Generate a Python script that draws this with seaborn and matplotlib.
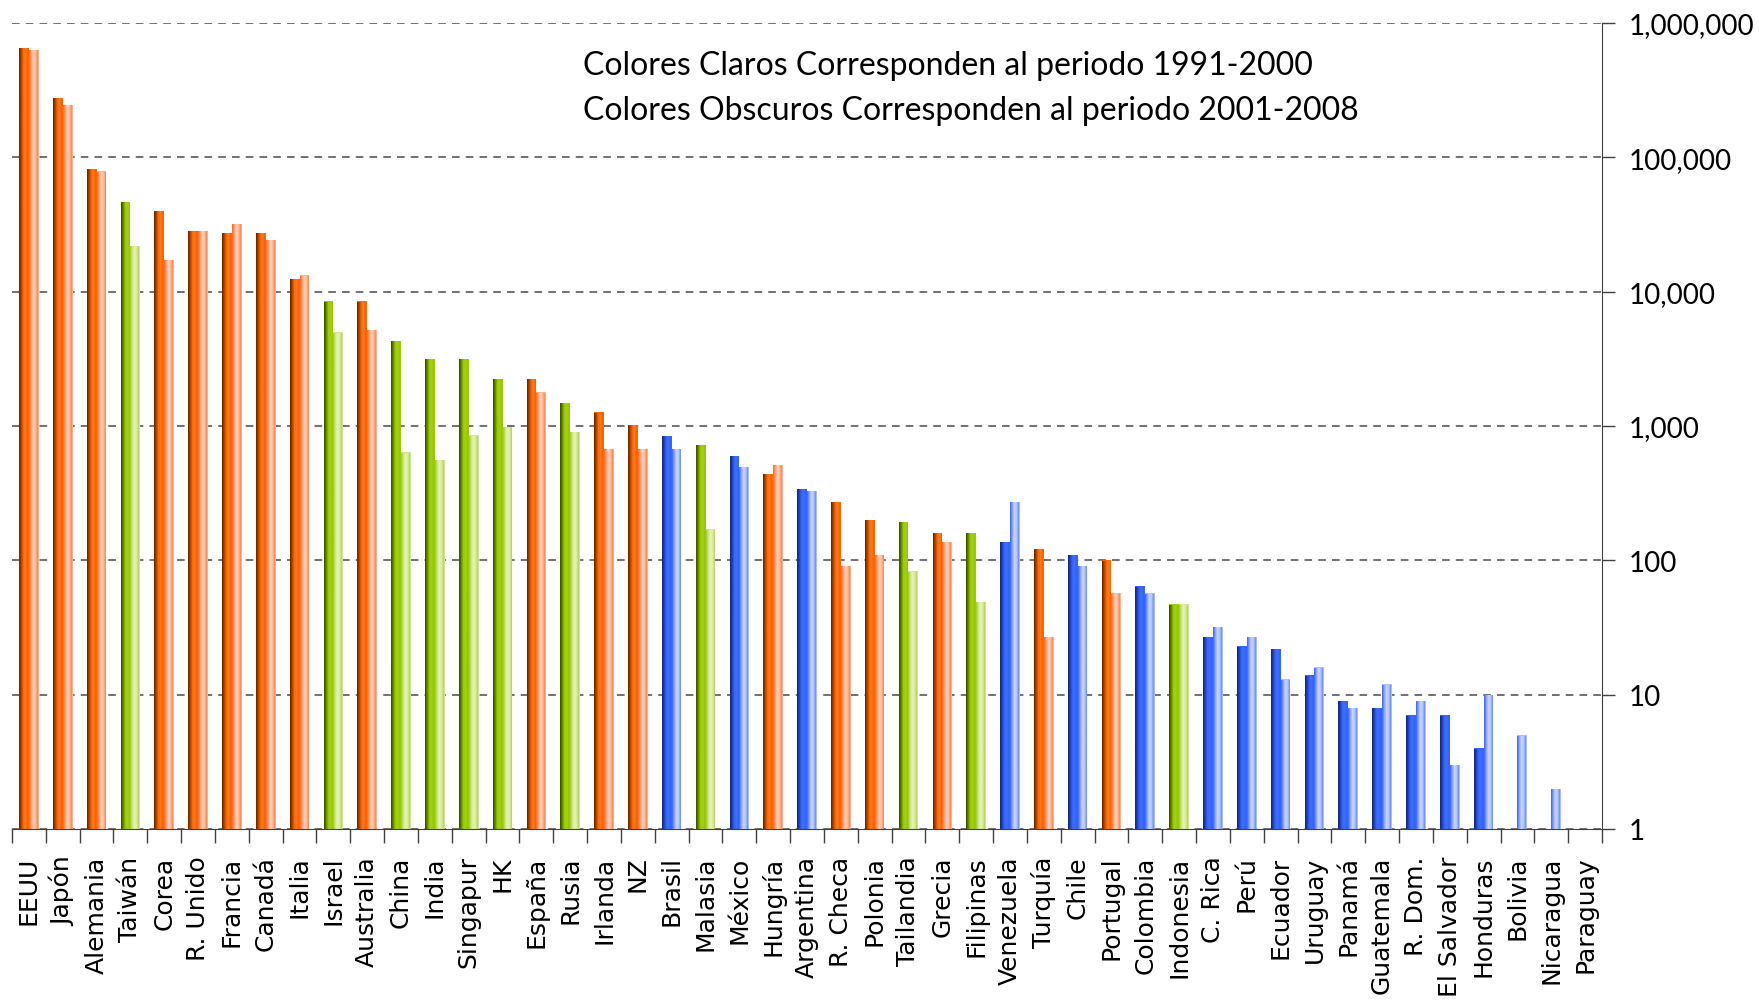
import numpy as np
import pandas as pd
import matplotlib
matplotlib.use("Agg")
import matplotlib.pyplot as plt
import seaborn as sns
from matplotlib.colors import LinearSegmentedColormap
from matplotlib.ticker import FixedLocator, FuncFormatter, NullLocator

# datos (escala logaritmica)
paises = ["EEUU", "Japón", "Alemania", "Taiwán", "Corea", "R. Unido", "Francia", "Canadá",
          "Italia", "Israel", "Australia", "China", "India", "Singapur", "HK", "España",
          "Rusia", "Irlanda", "NZ", "Brasil", "Malasia", "México", "Hungría", "Argentina",
          "R. Checa", "Polonia", "Tailandia", "Grecia", "Filipinas", "Venezuela", "Turquía",
          "Chile", "Portugal", "Colombia", "Indonesia", "C. Rica", "Perú", "Ecuador",
          "Uruguay", "Panamá", "Guatemala", "R. Dom.", "El Salvador", "Honduras", "Bolivia",
          "Nicaragua", "Paraguay"]
grupo = ["o", "o", "o", "g", "o", "o", "o", "o",
         "o", "g", "o", "g", "g", "g", "g", "o",
         "g", "o", "o", "b", "g", "b", "o", "b",
         "o", "o", "g", "o", "g", "b", "o",
         "b", "o", "b", "g", "b", "b", "b",
         "b", "b", "b", "b", "b", "b", "b",
         "b", "b"]
periodo_2001_2008 = [654000, 277000, 82000, 46600, 40000, 28400, 27400, 27400,
                     12500, 8500, 8500, 4300, 3160, 3160, 2240, 2240,
                     1490, 1270, 1020, 844, 723, 599, 440, 340,
                     272, 200, 193, 160, 160, 137, 122,
                     110, 100, 64, 47, 27, 23, 22,
                     14, 9, 8, 7, 7, 4, np.nan,
                     np.nan, np.nan]
periodo_1991_2000 = [631000, 246000, 79000, 21900, 17300, 28400, 32000, 24300,
                     13300, 5000, 5200, 640, 560, 850, 985, 1790,
                     904, 675, 675, 675, 171, 496, 513, 329,
                     91, 110, 83, 137, 49, 272, 27,
                     91, 57, 57, 47, 32, 27, 13,
                     16, 8, 12, 9, 3, 10, 5,
                     2, np.nan]

# degradados tipo cilindro (oscuro = 2001-2008, claro = 1991-2000)
gradientes = {
    ("o", "2001-2008"): ["#6E2A00", "#B84800", "#FF6600", "#FF7A1A", "#FF6600", "#C85000"],
    ("o", "1991-2000"): ["#FF7030", "#FFA47A", "#FFD0B8", "#FFC0A0", "#FF9060", "#FF6A20"],
    ("g", "2001-2008"): ["#3F5700", "#6B8F00", "#99CC00", "#A3D10F", "#99CC00", "#7A9F00"],
    ("g", "1991-2000"): ["#A6CF3A", "#CFE68A", "#E4F2B8", "#DCEEA6", "#BEDD66", "#9CC82C"],
    ("b", "2001-2008"): ["#16297A", "#2346C8", "#3366FF", "#3D6EFF", "#3366FF", "#2A52D8"],
    ("b", "1991-2000"): ["#4570FF", "#8EA8FF", "#C6D4FF", "#B8CAFF", "#7C9AFF", "#4068FF"],
}
solidos = {"o": ("#FF6600", "#FFB08A"), "g": ("#99CC00", "#D2E890"), "b": ("#3366FF", "#A9BDFF")}

df = pd.DataFrame({
    "pais": paises * 2,
    "grupo": grupo * 2,
    "periodo": ["2001-2008"] * len(paises) + ["1991-2000"] * len(paises),
    "valor": periodo_2001_2008 + periodo_1991_2000,
}).dropna()

fig = plt.figure(figsize=(17.59, 10.03), dpi=100)
ax = fig.add_axes([12 / 1759, 173 / 1003, 1590 / 1759, 806 / 1003])
ax.set_yscale("log")

sns.barplot(data=df, x="pais", y="valor", hue="periodo", order=paises,
            hue_order=["2001-2008", "1991-2000"], width=0.58, gap=0,
            errorbar=None, legend=False, ax=ax, linewidth=0, saturation=1)

# colorear cada barra segun grupo y periodo, con sombreado
for cont, per in zip(ax.containers, ["2001-2008", "1991-2000"]):
    for p in cont.patches:
        h = p.get_height()
        if not np.isfinite(h) or h <= 0:
            continue
        i = int(round(p.get_x() + p.get_width() / 2))
        g = grupo[i]
        p.set_facecolor(solidos[g][0 if per == "2001-2008" else 1])
        cmap = LinearSegmentedColormap.from_list("c", gradientes[(g, per)])
        x0, w = p.get_x(), p.get_width()
        im = ax.imshow(np.linspace(0, 1, 64).reshape(1, -1), cmap=cmap, aspect="auto",
                       extent=(x0, x0 + w, 1, h), origin="lower",
                       interpolation="bilinear", zorder=2.1)
        im.set_clip_path(p)

ax.set_ylim(1, 1e6)
ax.set_xlim(-0.5, len(paises) - 0.5)
ax.set_aspect("auto")

# eje y a la derecha
ax.yaxis.tick_right()
ax.yaxis.set_major_locator(FixedLocator([10 ** k for k in range(7)]))
ax.yaxis.set_minor_locator(NullLocator())
ax.yaxis.set_major_formatter(FuncFormatter(lambda v, pos: f"{v:,.0f}"))
ax.tick_params(axis="y", which="major", length=9, width=1, color="#404040", pad=10,
               labelsize=20, labelcolor="black")
for lab in ax.get_yticklabels():
    lab.set_family("Lato")
ax.grid(axis="y", which="major", linestyle=(0, (5, 4)), linewidth=1.1, color="#4a4a4a")
ax.set_axisbelow(True)

# eje x: marcas entre categorias
ax.set_xticks(range(len(paises)))
ax.set_xticklabels(paises, rotation=90, fontsize=18, family="DejaVu Sans")
ax.xaxis.set_minor_locator(FixedLocator(np.arange(-0.5, len(paises), 1.0)))
ax.tick_params(axis="x", which="major", length=0, pad=19)
ax.tick_params(axis="x", which="minor", length=10, width=1, color="#404040")
ax.set_xlabel("")
ax.set_ylabel("")

for lado in ["top", "left"]:
    ax.spines[lado].set_visible(False)
ax.spines["right"].set_color("#404040")
ax.spines["bottom"].set_color("#404040")

fig.text(583 / 1759, 1 - 75 / 1003, "Colores Claros Corresponden al periodo 1991-2000",
         fontsize=23, family="Lato", va="baseline", ha="left")
fig.text(583 / 1759, 1 - 120 / 1003, "Colores Obscuros Corresponden al periodo 2001-2008",
         fontsize=23, family="Lato", va="baseline", ha="left")

fig.savefig("out.png", dpi=100)
